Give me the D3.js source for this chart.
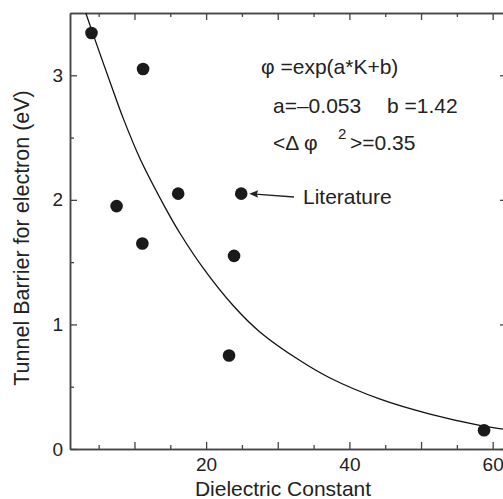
<!DOCTYPE html>
<html><head><meta charset="utf-8">
<script src="https://cdn.jsdelivr.net/npm/d3@7"></script>
<style>body{margin:0;background:#fff}svg{display:block}text{font-family:"Liberation Sans",Arial,sans-serif;fill:#222}</style>
</head><body><svg id="c" width="503" height="499"></svg>
<script>
// data: measured points (dielectric constant, barrier eV)
const kValues = [4.0, 11.2, 7.5, 11.1, 16.1, 23.9, 23.2, 58.8];
const phiValues = [3.34, 3.05, 1.95, 1.65, 2.05, 1.55, 0.75, 0.15];
const litK = [24.9];
const litPhi = [2.05];
// fitted curve
const curveK = [3.2, 5.2, 7.06, 8.46, 10.78, 14.27, 16.37, 19.62, 23.8, 27.5, 33.1, 37.3, 44.3, 51.25, 58.2, 62];
const curvePhi = [3.50, 3.17, 2.87, 2.65, 2.33, 1.94, 1.73, 1.45, 1.15, 0.94, 0.71, 0.57, 0.40, 0.28, 0.19, 0.155];
const xMajor = [10, 20, 30, 40, 50, 60];
const xMinor = [5, 15, 25, 35, 45, 55];
const xLabels = [20, 40, 60];
const yMajor = [0, 1, 2, 3];
const yMinor = [0.5, 1.5, 2.5];
const xTitle = "Dielectric Constant";
const yTitle = "Tunnel Barrier for electron (eV)";

const svg = d3.select("#c");
const x = d3.scaleLinear().domain([1, 62]).range([70, 507]);
const y = d3.scaleLinear().domain([0, 3.5]).range([449, 13]);
const axColor = "#444";

function styleAxis(g){ g.select(".domain").attr("stroke", axColor).attr("stroke-width", 1.5);
  g.selectAll(".tick line").attr("stroke", axColor).attr("stroke-width", 1.3);
  g.selectAll(".tick text").attr("font-size", 19).attr("fill", "#222").attr("font-family", "Liberation Sans, Arial, sans-serif"); }

// bottom
svg.append("g").attr("transform", `translate(0,${y(0)})`)
  .call(d3.axisBottom(x).tickValues(xMajor).tickSize(-7).tickPadding(9).tickSizeOuter(0)
    .tickFormat(d => xLabels.includes(d) ? d : ""))
  .call(styleAxis);
svg.append("g").attr("transform", `translate(0,${y(0)})`)
  .call(d3.axisBottom(x).tickValues(xMinor).tickSize(-4).tickSizeOuter(0).tickFormat(""))
  .call(styleAxis);
// top
svg.append("g").attr("transform", `translate(0,${y(3.5)})`)
  .call(d3.axisTop(x).tickValues(xMajor).tickSize(-7).tickSizeOuter(0).tickFormat(""))
  .call(styleAxis);
svg.append("g").attr("transform", `translate(0,${y(3.5)})`)
  .call(d3.axisTop(x).tickValues(xMinor).tickSize(-4).tickSizeOuter(0).tickFormat(""))
  .call(styleAxis);
// left
svg.append("g").attr("transform", `translate(${x(1)},0)`)
  .call(d3.axisLeft(y).tickValues(yMajor).tickSize(-7).tickPadding(7).tickSizeOuter(0).tickFormat(d3.format("d")))
  .call(styleAxis);
svg.append("g").attr("transform", `translate(${x(1)},0)`)
  .call(d3.axisLeft(y).tickValues(yMinor).tickSize(-4).tickSizeOuter(0).tickFormat(""))
  .call(styleAxis);
// right
svg.append("g").attr("transform", `translate(${x(62)},0)`)
  .call(d3.axisRight(y).tickValues(yMajor).tickSize(-7).tickSizeOuter(0).tickFormat(""))
  .call(styleAxis);
svg.append("g").attr("transform", `translate(${x(62)},0)`)
  .call(d3.axisRight(y).tickValues(yMinor).tickSize(-4).tickSizeOuter(0).tickFormat(""))
  .call(styleAxis);

// curve
const line = d3.line().x((d,i) => x(curveK[i])).y((d,i) => y(curvePhi[i])).curve(d3.curveCatmullRom.alpha(0.5));
svg.append("path").datum(curveK).attr("d", line).attr("fill", "none").attr("stroke", "#111").attr("stroke-width", 1.3);

// points
svg.append("g").selectAll("circle").data(kValues).join("circle")
  .attr("cx", (d) => x(d)).attr("cy", (d,i) => y(phiValues[i])).attr("r", 6.3).attr("fill", "#1a1a1a");
svg.append("g").selectAll("circle").data(litK).join("circle")
  .attr("cx", (d) => x(d)).attr("cy", (d,i) => y(litPhi[i])).attr("r", 6.3).attr("fill", "#1a1a1a");

// titles
svg.append("text").attr("x", 283).attr("y", 496).attr("text-anchor", "middle").attr("font-size", 21).text(xTitle);
svg.append("text").attr("transform", "translate(29,238) rotate(-90)").attr("text-anchor", "middle").attr("font-size", 21.5).text(yTitle);

// annotations
const fs = 21;
svg.append("text").attr("x", 261).attr("y", 74).attr("font-size", fs).text("φ =exp(a*K+b)");
svg.append("text").attr("x", 273).attr("y", 113).attr("font-size", fs).text("a=–0.053");
svg.append("text").attr("x", 387).attr("y", 113).attr("font-size", fs).text("b =1.42");
svg.append("text").attr("x", 273).attr("y", 150).attr("font-size", fs).attr("xml:space", "preserve").text("<Δ φ");
svg.append("text").attr("x", 338).attr("y", 139).attr("font-size", 15).text("2");
svg.append("text").attr("x", 350).attr("y", 150).attr("font-size", fs).text(">=0.35");
svg.append("text").attr("x", 303).attr("y", 204).attr("font-size", fs).text("Literature");

// arrow
const ax0 = 294, ay0 = 197, ax1 = x(litK[0]) + 8, ay1 = y(litPhi[0]);
svg.append("line").attr("x1", ax0).attr("y1", ay0).attr("x2", ax1 + 6).attr("y2", ay1 + 0.5).attr("stroke", "#222").attr("stroke-width", 1.3);
svg.append("path").attr("d", `M${ax1},${ay1} l9,-3.5 l-1.5,3.8 l1.5,3.8 Z`).attr("fill", "#222");
</script></body></html>
